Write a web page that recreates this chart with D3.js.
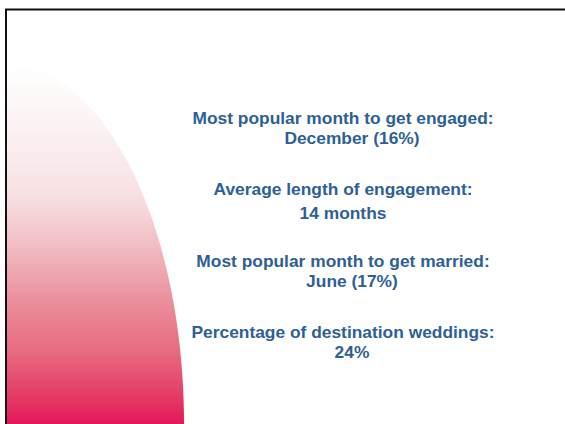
<!DOCTYPE html>
<html>
<head>
<meta charset="utf-8">
<script src="https://cdn.jsdelivr.net/npm/d3@7"></script>
<style>
  body { margin: 0; background: #fff; }
  svg { display: block; }
</style>
</head>
<body>
<script>
// Slide dimensions
let width = 565;
let height = 424;

// Facts shown on the slide
let headings = [
  "Most popular month to get engaged:",
  "Average length of engagement:",
  "Most popular month to get married:",
  "Percentage of destination weddings:"
];
let values = ["December (16%)", "14 months", "June (17%)", "24%"];

// Gradient colours for the curved shape (top to bottom)
let gradStops = [
  [0, "#ffffff"], [0.24, "#faedee"], [0.38, "#f7dde0"], [0.52, "#f0b8bf"],
  [0.66, "#eb8e9c"], [0.8, "#e76a80"], [0.93, "#e43864"], [1, "#e4175a"]
];

let textColor = "#2e5f95";

let svg = d3.select("body")
  .append("svg")
  .attr("width", width)
  .attr("height", height);

let defs = svg.append("defs");
let grad = defs.append("linearGradient")
  .attr("id", "pinkFade")
  .attr("gradientUnits", "userSpaceOnUse")
  .attr("x1", 0).attr("y1", 65)
  .attr("x2", 0).attr("y2", 424);

grad.selectAll("stop")
  .data(gradStops)
  .enter()
  .append("stop")
  .attr("offset", d => d[0])
  .attr("stop-color", d => d[1]);

// quarter ellipse on the left side
let cx = 6, cy = 424, rx = 178, ry = 359;
let arcPts = d3.range(0, 91, 2).map(a => {
  let t = a * Math.PI / 180;
  return [cx + rx * Math.sin(t), cy - ry * Math.cos(t)];
});
let shape = [[cx, cy + 2]].concat(arcPts).concat([[cx + rx, cy + 2]]);

svg.append("path")
  .attr("d", d3.line()(shape) + "Z")
  .attr("fill", "url(#pinkFade)");

// frame (top and left edges)
svg.append("path")
  .attr("d", "M6,430 V9.5 H566")
  .attr("fill", "none")
  .attr("stroke", "#111")
  .attr("stroke-width", 2);

// vertical placement of each fact
let y = d3.scalePoint()
  .domain(d3.range(headings.length))
  .range([124, 338]);

let valueGap = [20, 24, 20, 20];

// text on the slide is slightly stretched sideways
let group = svg.selectAll(".fact")
  .data(headings)
  .enter()
  .append("g")
  .classed("fact", true)
  .attr("transform", (d, i) => `translate(343, ${y(i)}) scale(1.053, 1)`);

group.append("text")
  .attr("text-anchor", "middle")
  .attr("font-family", "'Liberation Sans', Arial, sans-serif")
  .attr("font-weight", "bold")
  .attr("font-size", 16.5)
  .attr("fill", textColor)
  .text(d => d);

group.append("text")
  .attr("text-anchor", "middle")
  .attr("x", (d, i) => i === 1 ? 0 : 8.5)
  .attr("y", (d, i) => valueGap[i])
  .attr("font-family", "'Liberation Sans', Arial, sans-serif")
  .attr("font-weight", "bold")
  .attr("font-size", 16.5)
  .attr("fill", textColor)
  .text((d, i) => values[i]);
</script>
</body>
</html>
